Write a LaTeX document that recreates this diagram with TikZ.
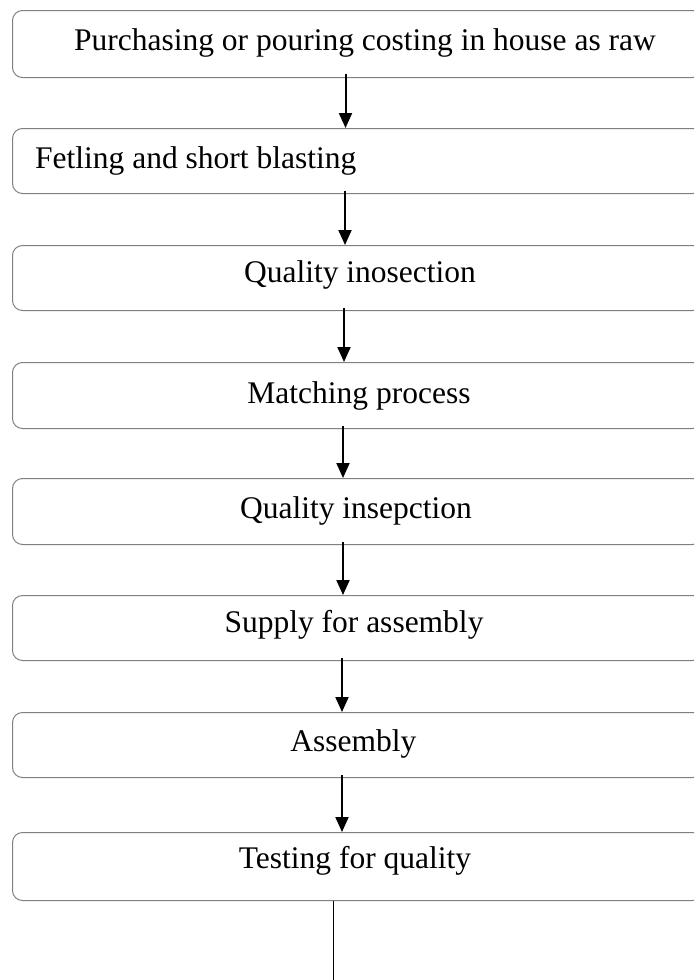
\documentclass[tikz,border=0pt]{standalone}
\usepackage{fontspec}
\setmainfont{Liberation Serif}
\usetikzlibrary{arrows.meta}
\begin{document}
\begin{tikzpicture}[x=1pt,y=-1pt,
  stagebox/.style={draw=black!50, line width=1pt, rounded corners=10pt, anchor=north west, minimum width=690pt},
  stagetext/.style={font=\fontsize{31.5}{36}\selectfont, inner sep=0pt, anchor=base},
  flow/.style={draw=black, line width=2pt, -{Triangle[length=15pt,width=13pt]}},
  tail/.style={draw=black, line width=1pt}]
\useasboundingbox (0,0) rectangle (694,980);
\clip (0,0) rectangle (694,980);
% process boxes (right side runs past the page edge)
\node[stagebox, minimum height=67pt] (b1) at (12,10) {};
\node[stagebox, minimum height=65pt] (b2) at (12,128) {};
\node[stagebox, minimum height=65pt] (b3) at (12,245) {};
\node[stagebox, minimum height=66pt] (b4) at (12,362) {};
\node[stagebox, minimum height=66pt] (b5) at (12,478) {};
\node[stagebox, minimum height=65pt] (b6) at (12,595) {};
\node[stagebox, minimum height=65pt] (b7) at (12,712) {};
\node[stagebox, minimum height=68pt] (b8) at (12,832) {};
% labels
\node[stagetext] (t1) at (365,50.7) {Purchasing or pouring costing in house as raw};
\node[stagetext, anchor=base west] (t2) at (35,168.3) {Fetling and short blasting};
\node[stagetext] (t3) at (360,282.3) {Quality inosection};
\node[stagetext] (t4) at (359,403.7) {Matching process};
\node[stagetext] (t5) at (356,518.3) {Quality insepction};
\node[stagetext] (t6) at (354,632.7) {Supply for assembly};
\node[stagetext] (t7) at (353.3,751.3) {Assembly};
\node[stagetext] (t8) at (355,868.3) {Testing for quality};
% connectors
\coordinate (a1) at (345.5,74);  \coordinate (a2) at (345,191);
\coordinate (a3) at (344,308); \coordinate (a4) at (343,426);
\coordinate (a5) at (343,542); \coordinate (a6) at (342,658);
\coordinate (a7) at (342,775);
\draw[flow] (a1) -- (a1 |- b2.north);
\draw[flow] (a2) -- (a2 |- b3.north);
\draw[flow] (a3) -- (a3 |- b4.north);
\draw[flow] (a4) -- (a4 |- b5.north);
\draw[flow] (a5) -- (a5 |- b6.north);
\draw[flow] (a6) -- (a6 |- b7.north);
\draw[flow] (a7) -- (a7 |- b8.north);
\coordinate (e8) at (333,980);
\draw[tail] (e8 |- b8.south) -- (e8);
\end{tikzpicture}
\end{document}
